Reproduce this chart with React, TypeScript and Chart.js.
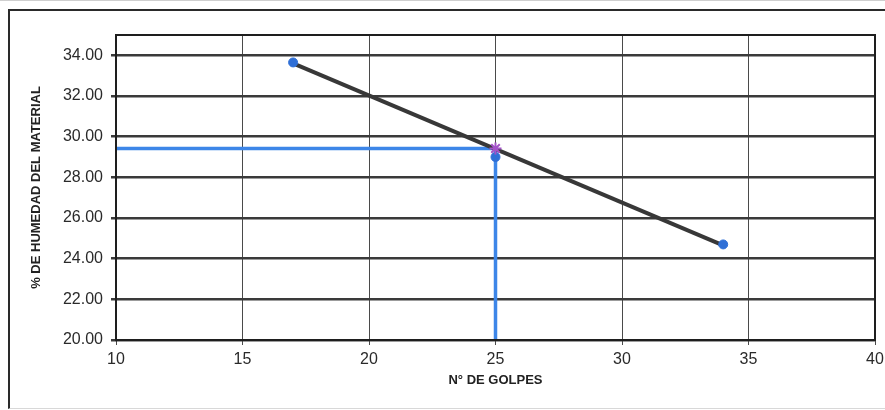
import React, { useEffect, useRef } from "react";
import { Chart, registerables } from "chart.js";

Chart.register(...registerables);

// Data
const golpes = [17, 25, 34];
const humedad = [33.65, 29.0, 24.7];
const trendX = [17, 34];
const trendY = [33.6, 24.65];
const targetX = 25;
const targetY = 29.42;
const xMin = 10;
const xMax = 40;
const yMin = 20;
const yMax = 35;
const yTicks = [20, 22, 24, 26, 28, 30, 32, 34];
const xTicks = [10, 15, 20, 25, 30, 35, 40];
const xTitle = "N° DE GOLPES";
const yTitle = "% DE HUMEDAD DEL MATERIAL";

const FONT = "'Liberation Sans', Arial, sans-serif";

const framePlugin = {
  id: "plotFrame",
  afterDraw(chart: any) {
    const { ctx, chartArea } = chart;
    ctx.save();
    ctx.strokeStyle = "#1e1e1e";
    ctx.lineWidth = 2;
    ctx.strokeRect(
      chartArea.left,
      chartArea.top,
      chartArea.right - chartArea.left,
      chartArea.bottom - chartArea.top
    );
    ctx.restore();
  },
};

export default function App() {
  const ref = useRef<HTMLCanvasElement | null>(null);

  useEffect(() => {
    document.body.style.margin = "0";
    if (!ref.current) return;
    const chart = new Chart(ref.current, {
      type: "scatter",
      data: {
        datasets: [
          {
            label: "target",
            data: [{ x: targetX, y: targetY }],
            pointStyle: "star",
            radius: 6,
            borderColor: "#a352c8",
            backgroundColor: "#a352c8",
            borderWidth: 2,
            showLine: false,
            order: 0,
          },
          {
            label: "puntos",
            data: golpes.map((g, i) => ({ x: g, y: humedad[i] })),
            pointStyle: "circle",
            radius: 4.5,
            backgroundColor: "#2f6fd6",
            borderColor: "#2f6fd6",
            showLine: false,
            order: 1,
          },
          {
            label: "tendencia",
            data: trendX.map((x, i) => ({ x, y: trendY[i] })),
            showLine: true,
            borderColor: "#383838",
            borderWidth: 4,
            radius: 0,
            order: 2,
          },
          {
            label: "horizontal",
            data: [
              { x: xMin, y: targetY },
              { x: targetX, y: targetY },
            ],
            showLine: true,
            borderColor: "#3d86e8",
            borderWidth: 3.5,
            radius: 0,
            order: 3,
          },
          {
            label: "vertical",
            data: [
              { x: targetX, y: targetY },
              { x: targetX, y: yMin },
            ],
            showLine: true,
            borderColor: "#3d86e8",
            borderWidth: 3.5,
            radius: 0,
            order: 3,
          },
        ],
      },
      options: {
        responsive: false,
        animation: false,
        layout: { padding: { left: 0, top: 35, right: 10, bottom: 0 } },
        plugins: {
          legend: { display: false },
          tooltip: { enabled: false },
        },
        scales: {
          x: {
            type: "linear",
            min: xMin,
            max: xMax,
            afterBuildTicks: (scale: any) => {
              scale.ticks = xTicks.map((v) => ({ value: v }));
            },
            afterFit: (scale: any) => {
              scale.height = 70;
              scale.paddingLeft = 0;
              scale.paddingRight = 0;
            },
            ticks: {
              color: "#2a2a2a",
              font: { family: FONT, size: 16 },
              padding: 5,
              maxRotation: 0,
              callback: (v: any) => String(v),
            },
            grid: {
              color: "#4a4a4a",
              lineWidth: 1,
              tickLength: 5,
              tickColor: "#4a4a4a",
            },
            border: { color: "#1e1e1e", width: 2 },
            title: {
              display: true,
              text: xTitle,
              color: "#222",
              font: { family: FONT, size: 13, weight: "bold" },
              padding: { top: 0, bottom: 22 },
            },
          },
          y: {
            type: "linear",
            min: yMin,
            max: yMax,
            afterBuildTicks: (scale: any) => {
              scale.ticks = yTicks.map((v) => ({ value: v }));
            },
            afterFit: (scale: any) => {
              scale.width = 116;
              scale.paddingTop = 0;
              scale.paddingBottom = 0;
            },
            ticks: {
              color: "#2a2a2a",
              font: { family: FONT, size: 16 },
              padding: 8,
              callback: (v: any) => Number(v).toFixed(2),
            },
            grid: {
              color: "#3a3a3a",
              lineWidth: 2.5,
              tickLength: 5,
              tickColor: "#3a3a3a",
            },
            border: { color: "#1e1e1e", width: 2 },
            title: {
              display: true,
              text: yTitle,
              color: "#222",
              font: { family: FONT, size: 13, weight: "bold" },
              padding: { top: 29, bottom: 0 },
            },
          },
        },
      },
      plugins: [framePlugin],
    });
    return () => chart.destroy();
  }, []);

  return (
    <div
      style={{
        position: "relative",
        width: 885,
        height: 410,
        overflow: "hidden",
        background: "#fff",
      }}
    >
      <div
        style={{
          position: "absolute",
          left: 0,
          top: 0,
          width: 885,
          height: 1,
          background: "#cfcfcf",
        }}
      />
      <div
        style={{
          position: "absolute",
          left: 8,
          top: 9,
          width: 900,
          height: 397,
          borderLeft: "2px solid #2a2a2a",
          borderTop: "2px solid #2a2a2a",
          borderBottom: "1px solid #d8d8d8",
        }}
      />
      <canvas
        ref={ref}
        width={885}
        height={410}
        style={{ position: "absolute", left: 0, top: 0 }}
      />
    </div>
  );
}
